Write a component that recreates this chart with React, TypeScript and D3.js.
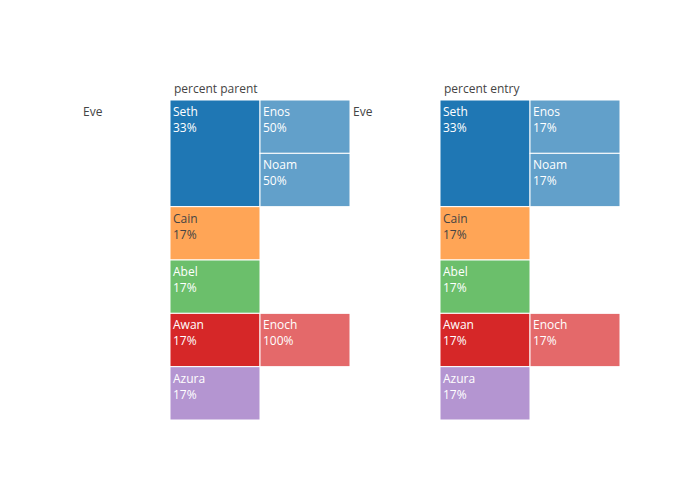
import React from "react";
import * as d3 from "d3";

const names = ["Eve", "Seth", "Cain", "Abel", "Awan", "Azura", "Enos", "Noam", "Enoch"];
const parents = ["", "Eve", "Eve", "Eve", "Eve", "Eve", "Seth", "Seth", "Awan"];
const colors: Record<string, string> = {
  Eve: "rgba(0,0,0,0)", Seth: "#1f77b4", Cain: "#ffa556", Abel: "#6bbf6b", Awan: "#d62728",
  Azura: "#b495d1", Enos: "#62a0ca", Noam: "#62a0ca", Enoch: "#e4696a",
};
const darkText = new Set(["Cain"]);
const panels = [
  { title: "percent parent", x: 80, mode: "parent" },
  { title: "percent entry", x: 350, mode: "entry" },
];

export default function App() {
  const strat = d3.stratify<{ name: string; parent: string }>().id(d => d.name).parentId(d => d.parent || null)(
    names.map((n, i) => ({ name: n, parent: parents[i] }))
  );
  const fmt = (v: number) => `${Math.round(v * 100)}%`;
  return (
    <svg width={700} height={500} style={{ position: "absolute", left: 0, top: 0, fontFamily: "'Open Sans', sans-serif" }}>
      <rect width={700} height={500} fill="#fff" />
      {panels.map(p => {
        const root = d3.hierarchy(strat.copy().data).sum(() => 0);
        const h = d3.hierarchy(strat, d => d.children).count();
        const part = d3.partition<any>().size([320, 270]).padding(0)(h as any);
        const total = part.value!;
        return (
          <g key={p.title} transform={`translate(${p.x},100)`}>
            <text x={94} y={-7} fontSize={12} fill="#444">{p.title}</text>
            {part.descendants().map((n: any) => {
              const name = n.data.id;
              const isRoot = n.depth === 0;
              const pct = p.mode === "parent" ? n.value / (n.parent ? n.parent.value : n.value) : n.value / total;
              const fill = darkText.has(name) || isRoot ? "#444" : "#fff";
              return (
                <g key={name}>
                  <rect x={n.y0} y={n.x0} width={n.y1 - n.y0} height={n.x1 - n.x0} fill={colors[name]} stroke={isRoot ? "none" : "#fff"} strokeWidth={1} />
                  <text x={n.y0 + 3} y={n.x0 + 16} fontSize={12} fill={fill}>{name}</text>
                  {!isRoot && <text x={n.y0 + 3} y={n.x0 + 32} fontSize={12} fill={fill}>{fmt(pct)}</text>}
                </g>
              );
            })}
          </g>
        );
      })}
    </svg>
  );
}
